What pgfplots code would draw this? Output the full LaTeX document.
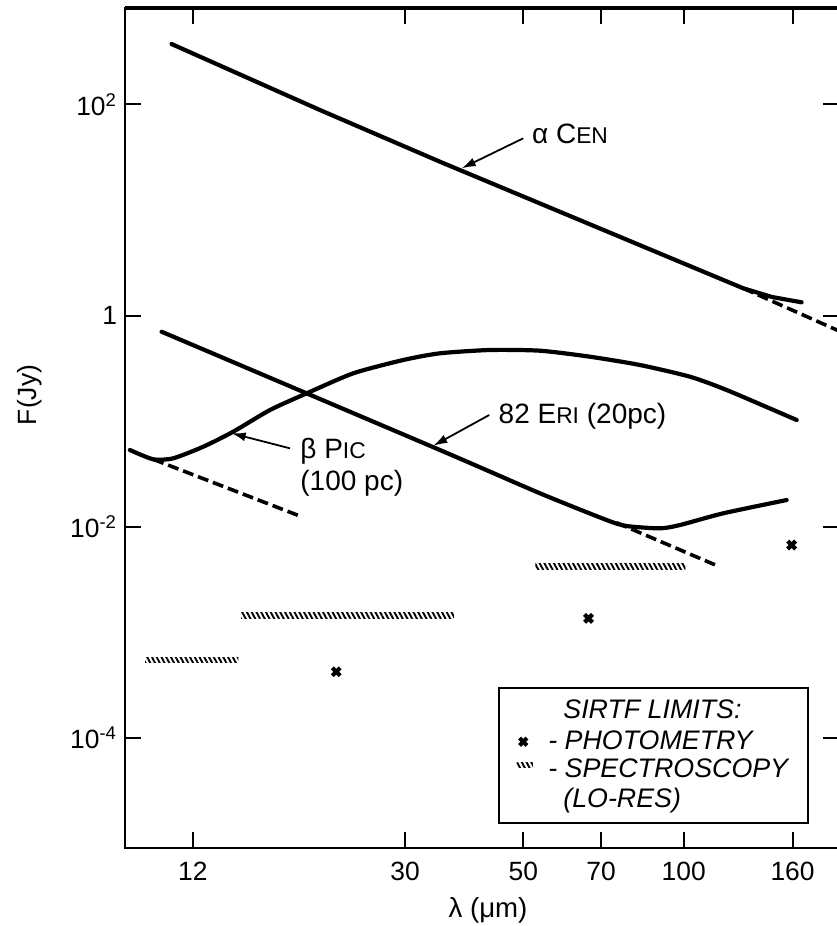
\documentclass[border=0pt]{standalone}
\usepackage{fontspec}
\setmainfont{Liberation Sans}
\usepackage{pgfplots}
\pgfplotsset{compat=1.18}
\usetikzlibrary{arrows.meta,patterns.meta}

% reduced capitals for star names
\newcommand{\smc}[1]{{\fontsize{11.4}{13}\selectfont #1}}
\newcommand{\lblfont}{\fontsize{14}{16}\selectfont}
\newcommand{\keyfont}{\itshape\fontsize{13.4}{15}\selectfont}

\begin{document}
\begin{tikzpicture}
\begin{axis}[
  scale only axis,
  width=357pt, height=420pt,
  xmode=log, ymode=log,
  xmin=8.95, xmax=195.6,
  ymin=8.97e-6, ymax=821.5,
  xtick={12,30,50,70,100,160},
  xticklabels={12,30,50,70,100,160},
  ytick={1e-4,1e-2,1,1e2},
  yticklabels={10\textsuperscript{-4},10\textsuperscript{-2},1,10\textsuperscript{2}},
  major tick length=8pt,
  tick style={black, line width=1pt},
  axis line style={line width=1pt},
  clip mode=individual,
  xticklabel style={font=\fontsize{13.2}{15}\selectfont, yshift=-3.5pt},
  yticklabel style={font=\fontsize{13.2}{15}\selectfont, xshift=-0.5pt},
  solidcurve/.style={black, line width=2.1pt, line join=round, line cap=round},
  dashcurve/.style={black, line width=1.8pt, dash pattern=on 5.5pt off 2.5pt},
  hatch/.style={draw=none, pattern={Lines[angle=-62,distance=2.1pt,line width=0.95pt]}},
]

% alpha Cen: photosphere with slight far-IR excess
\addplot[solidcurve] coordinates {
  (10.94,374.6) (20.77,88.7) (34.88,28.70) (66.69,7.317)
  (129.3,1.811) (146.4,1.497) (166.4,1.334)};
\addplot[dashcurve] coordinates {(129.3,1.811) (196,0.71)};

% beta Pic (at 100 pc)
\addplot[solidcurve, smooth, tension=0.4] coordinates {
  (9.141,0.05311) (10.11,0.04335) (11.02,0.04431) (12.55,0.05707)
  (14.28,0.07915) (16.74,0.1271) (19.62,0.1830) (23.99,0.2832)
  (29.77,0.3787) (34.88,0.4382) (43.29,0.4710) (53.75,0.4639)
  (66.69,0.4069) (82.78,0.3395) (102.7,0.2630) (120.4,0.1967)
  (162.9,0.1022)};
\addplot[dashcurve] coordinates {(10.11,0.04335) (19.20,0.01238)};

% 82 Eri (at 20 pc)
\addplot[solidcurve, smooth, tension=0.4] coordinates {
  (10.48,0.7023) (34.88,0.05311) (53.75,0.02064) (71.68,0.01152)
  (78.15,0.01011) (90.24,0.00961) (98.38,0.01033) (118.6,0.01334)
  (156.0,0.01783)};
\addplot[dashcurve] coordinates {(74.83,0.01086) (116.7,0.004158)};

% SIRTF spectroscopy limits (low resolution)
\addplot[hatch] coordinates {(9.765,5.10e-4) (14.60,5.10e-4) (14.60,5.78e-4) (9.765,5.78e-4)} -- cycle;
\addplot[hatch] coordinates {(14.78,1.341e-3) (37.04,1.341e-3) (37.04,1.519e-3) (14.78,1.519e-3)} -- cycle;
\addplot[hatch] coordinates {(52.71,3.907e-3) (100.7,3.907e-3) (100.7,4.425e-3) (52.71,4.425e-3)} -- cycle;

% SIRTF photometry limits
\addplot[only marks, mark=x, mark size=2.8pt, mark options={line width=2.1pt}] coordinates {
  (22.29,4.204e-4) (66.29,1.348e-3) (159.4,6.678e-3)};

% key symbols
\addplot[only marks, mark=x, mark size=2.6pt, mark options={line width=2pt}] coordinates {(50.0,9.124e-5)};
\addplot[hatch] coordinates {(48.6,5.15e-5) (52.1,5.15e-5) (52.1,5.84e-5) (48.6,5.84e-5)} -- cycle;

% heavier top frame
\draw[line width=1.6pt] (rel axis cs:0,1) -- (rel axis cs:1,1);

% curve labels
\node[anchor=base west, inner sep=0, font=\lblfont] at (rel axis cs:0.5696,0.8381) {α C\smc{EN}};
\draw[line width=0.9pt, -{Latex[length=7pt,width=4.5pt]}] (rel axis cs:0.5578,0.8449) -- (rel axis cs:0.4716,0.8092);

\node[anchor=base west, inner sep=0, font=\lblfont] at (rel axis cs:0.5228,0.5048) {82 E\smc{RI} (20pc)};
\draw[line width=0.9pt, -{Latex[length=7pt,width=4.5pt]}] (rel axis cs:0.5102,0.5155) -- (rel axis cs:0.4318,0.4789);

\node[anchor=base west, inner sep=0, font=\lblfont] at (rel axis cs:0.2451,0.4643) {β P\smc{IC}};
\node[anchor=base west, inner sep=0, font=\lblfont] at (rel axis cs:0.2451,0.4262) {(100 pc)};
\draw[line width=0.9pt, -{Latex[length=7pt,width=4.5pt]}] (rel axis cs:0.2311,0.4758) -- (rel axis cs:0.1494,0.4937);

% key box
\draw[line width=1pt] (rel axis cs:0.5238,0.0294) rectangle (rel axis cs:0.9570,0.1901);
\node[anchor=base west, inner sep=0, font=\keyfont] at (rel axis cs:0.6134,0.1536) {SIRTF LIMITS:};
\node[anchor=base west, inner sep=0, font=\keyfont] at (rel axis cs:0.5924,0.1167) {- PHOTOMETRY};
\node[anchor=base west, inner sep=0, font=\keyfont] at (rel axis cs:0.5924,0.0845) {- SPECTROSCOPY};
\node[anchor=base west, inner sep=0, font=\keyfont] at (rel axis cs:0.6134,0.0488) {(LO-RES)};

% axis titles
\node[rotate=90, inner sep=0, font=\fontsize{13.2}{15}\selectfont] at (rel axis cs:-0.1338,0.5393) {F(Jy)};
\node[anchor=base, inner sep=0, font=\fontsize{13.8}{15}\selectfont] at (rel axis cs:0.5084,-0.0833) {λ (μm)};

% picture extent
\coordinate (bbsw) at (rel axis cs:-0.17507,-0.092857);
\coordinate (bbne) at (rel axis cs:0.99720,1.009524);
\end{axis}
\pgfresetboundingbox
\path[use as bounding box] (bbsw) rectangle (bbne);
\end{tikzpicture}
\end{document}
